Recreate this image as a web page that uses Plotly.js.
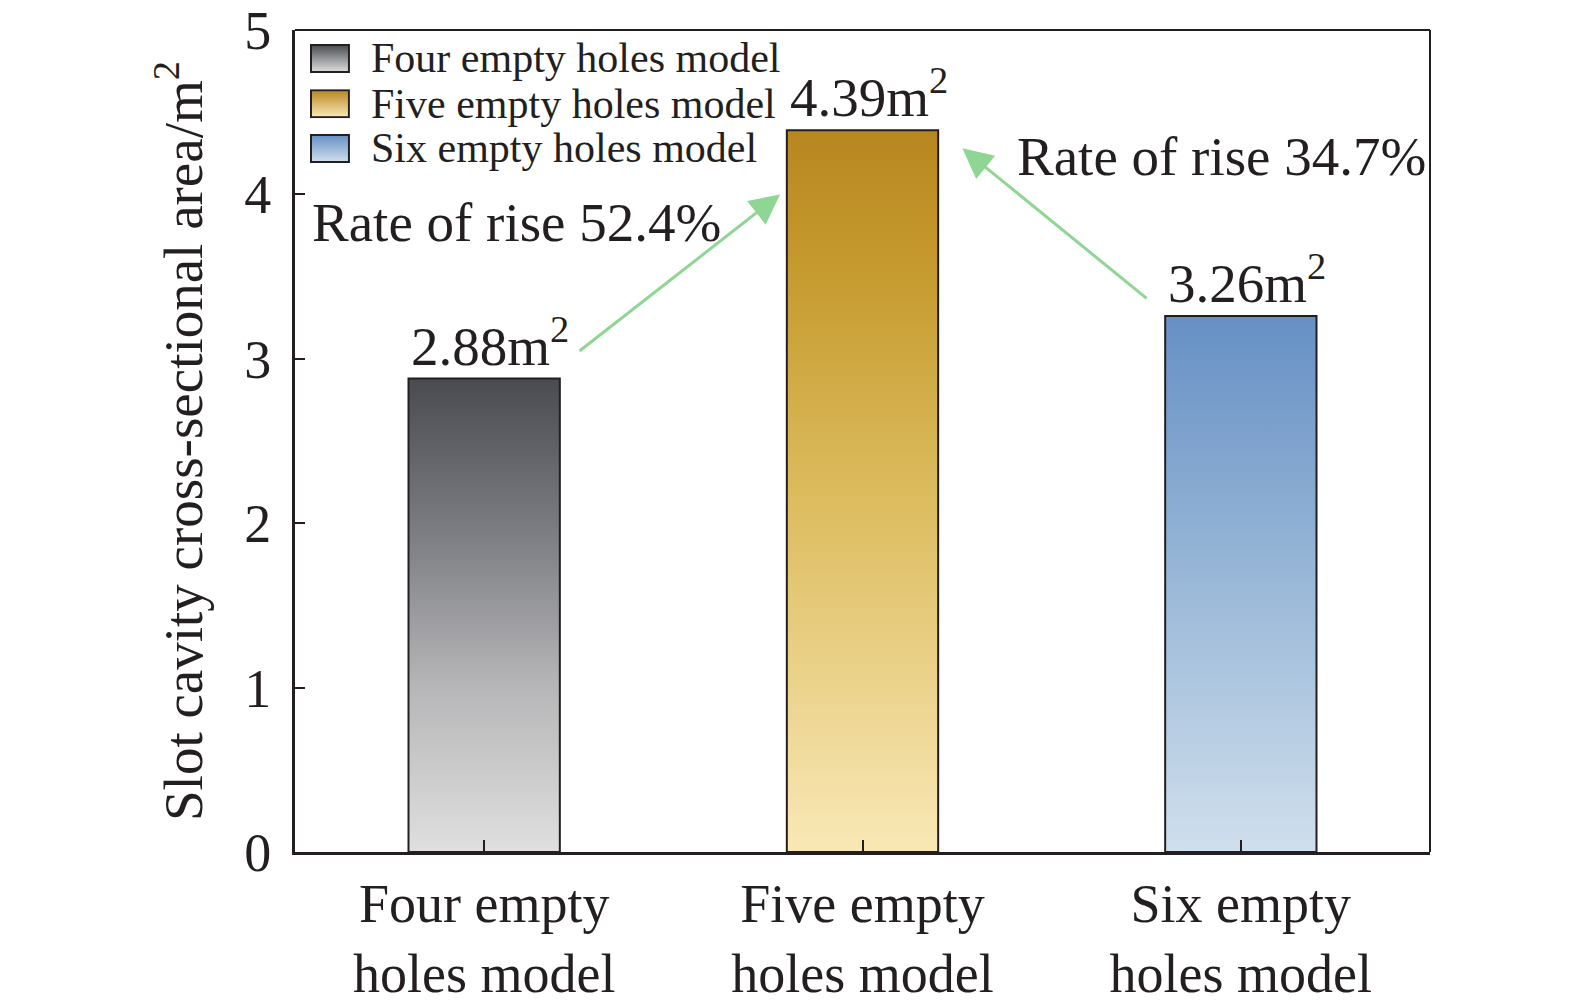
<!DOCTYPE html>
<html>
<head>
<meta charset="utf-8">
<script src="https://cdn.plot.ly/plotly-3.0.1.min.js"></script>
<style>
  html, body { margin: 0; padding: 0; background: #ffffff; }
  #plot { width: 1575px; height: 1004px; }
</style>
</head>
<body>
<div id="plot"></div>
<script>
'use strict';

// chart values
const categories = ['Four empty<br>holes model', 'Five empty<br>holes model', 'Six empty<br>holes model'];
const seriesNames = ['Four empty holes model', 'Five empty holes model', 'Six empty holes model'];
const areas = [2.88, 4.39, 3.26];
const areaLabels = ['2.88m<sup>2</sup>', '4.39m<sup>2</sup>', '3.26m<sup>2</sup>'];
const riseLabels = ['Rate of rise 52.4%', 'Rate of rise 34.7%'];
const yTicks = [0, 1, 2, 3, 4, 5];

// styles
const ink = '#231f20';
const font = 'Liberation Serif, Times New Roman, serif';
const barWidth = 0.4;
const gradients = [
  [[0, '#dfdfdf'], [0.35, '#b6b6b8'], [0.65, '#808186'], [1, '#4a4b50']],
  [[0, '#f9e8b6'], [0.5, '#dcbb5d'], [0.8, '#c69b30'], [1, '#b8871f']],
  [[0, '#d0dfed'], [0.5, '#9ab8d8'], [1, '#6690c4']]
];

const plot = document.getElementById('plot');

// one filled rectangle per bar, so the fill can carry a vertical gradient
var traces = areas.map(function (v, i) {
  let x0 = i - barWidth / 2,
      x1 = i + barWidth / 2;
  return {
    type: 'scatter',
    mode: 'lines',
    name: seriesNames[i],
    x: [x0, x1, x1, x0, x0],
    y: [0, 0, v, v, 0],
    fill: 'toself',
    fillgradient: {
      type: 'vertical',
      start: 0,
      stop: v,
      colorscale: gradients[i]
    },
    line: {color: ink, width: 2},
    showlegend: false,
    hoverinfo: 'skip'
  };
});

function swatch(scale) {
  let top = scale[scale.length - 1][1],
      bottom = scale[0][1];
  let svg = '<svg xmlns="http://www.w3.org/2000/svg" width="40" height="29" viewBox="0 0 40 29" preserveAspectRatio="none">' +
    '<defs><linearGradient id="g" x1="0" y1="0" x2="0" y2="1">' +
    '<stop offset="0" stop-color="' + top + '"/><stop offset="1" stop-color="' + bottom + '"/>' +
    '</linearGradient></defs>' +
    '<rect x="1" y="1" width="38" height="27" fill="url(#g)" stroke="' + ink + '" stroke-width="2"/></svg>';
  return 'data:image/svg+xml,' + encodeURIComponent(svg);
}

// hand-made legend (gradient swatches + labels) in the top-left corner
var legendRows = [0.983, 0.928, 0.8735];
var images = seriesNames.map(function (name, i) {
  return {
    source: swatch(gradients[i]),
    xref: 'paper', yref: 'paper',
    x: 0.0132, y: legendRows[i],
    sizex: 0.0352, sizey: 0.0353,
    sizing: 'stretch',
    xanchor: 'left', yanchor: 'top',
    layer: 'above'
  };
});

var annotations = [];

seriesNames.forEach(function (name, i) {
  annotations.push({
    xref: 'paper', yref: 'paper',
    x: 0.065, y: legendRows[i] - 0.0176,
    xanchor: 'left', yanchor: 'middle',
    text: name,
    showarrow: false,
    font: {family: font, size: 42, color: ink}
  });
});

areas.forEach(function (v, i) {
  annotations.push({
    x: i, y: v,
    xanchor: 'center', yanchor: 'bottom',
    xshift: 6,
    yshift: 0,
    text: areaLabels[i],
    showarrow: false,
    font: {family: font, size: 55, color: ink}
  });
});

annotations.push({
  x: -0.46, y: 3.83,
  xanchor: 'left', yanchor: 'middle',
  text: riseLabels[0],
  showarrow: false,
  font: {family: font, size: 55, color: ink}
});
annotations.push({
  x: 1.404, y: 4.23,
  xanchor: 'left', yanchor: 'middle',
  text: riseLabels[1],
  showarrow: false,
  font: {family: font, size: 55, color: ink}
});

// green rise arrows
annotations.push({
  x: 0.782, y: 4.0, ax: 0.248, ay: 3.04,
  axref: 'x', ayref: 'y',
  text: '', showarrow: true,
  arrowhead: 2, arrowsize: 2, arrowwidth: 3, arrowcolor: '#8fd694'
});
annotations.push({
  x: 1.264, y: 4.28, ax: 1.755, ay: 3.36,
  axref: 'x', ayref: 'y',
  text: '', showarrow: true,
  arrowhead: 2, arrowsize: 2, arrowwidth: 3, arrowcolor: '#8fd694'
});

var layout = {
  width: 1575,
  height: 1004,
  paper_bgcolor: '#ffffff',
  plot_bgcolor: '#ffffff',
  showlegend: false,
  margin: {l: 295, r: 145, t: 30, b: 152},
  font: {family: font, color: ink},
  xaxis: {
    range: [-0.5, 2.5],
    tickvals: [0, 1, 2],
    ticktext: categories,
    ticks: 'inside',
    ticklen: 12,
    tickwidth: 2,
    tickcolor: ink,
    showline: true,
    linewidth: 3,
    linecolor: ink,
    showgrid: false,
    zeroline: false,
    ticklabelstandoff: 2,
    tickfont: {family: font, size: 54, color: ink},
    fixedrange: true
  },
  yaxis: {
    range: [0, 5],
    tickvals: yTicks,
    ticks: 'inside',
    ticklen: 10,
    tickwidth: 2,
    tickcolor: ink,
    showline: true,
    linewidth: 3,
    linecolor: ink,
    showgrid: false,
    zeroline: false,
    ticklabelstandoff: 10,
    tickfont: {family: font, size: 54, color: ink},
    title: {
      text: 'Slot cavity cross-sectional area/m<sup>2</sup>',
      font: {family: font, size: 55, color: ink},
      standoff: 24
    },
    fixedrange: true
  },
  shapes: [
    // top and right frame
    {type: 'line', xref: 'paper', yref: 'paper', x0: 0, x1: 1, y0: 1, y1: 1,
     line: {color: ink, width: 2}},
    {type: 'line', xref: 'paper', yref: 'paper', x0: 1, x1: 1, y0: 0, y1: 1,
     line: {color: ink, width: 2}}
  ],
  images: images,
  annotations: annotations
};

var config = {
  responsive: false,
  displayModeBar: false,
  staticPlot: true
};

Plotly.newPlot(plot, traces, layout, config);
</script>
</body>
</html>
